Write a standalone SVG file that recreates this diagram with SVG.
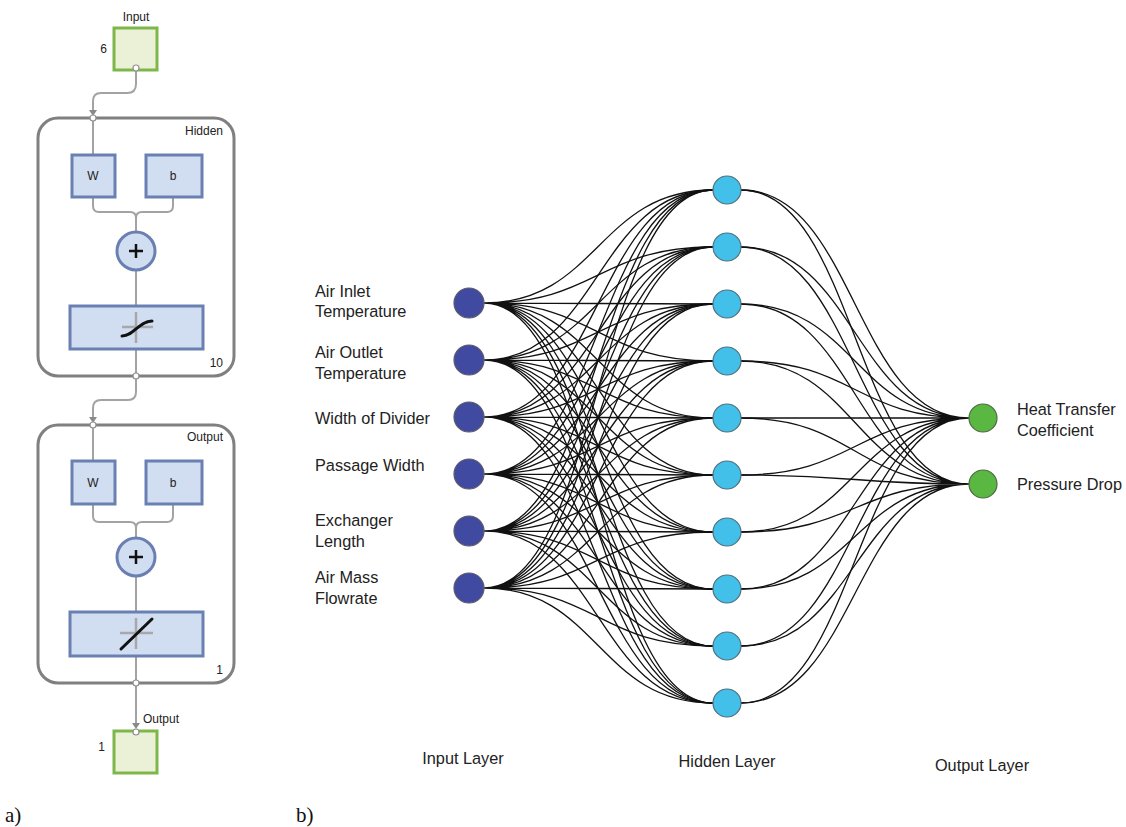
<svg xmlns="http://www.w3.org/2000/svg" width="1126" height="827" viewBox="0 0 1126 827">
<style>
.t{font-family:"Liberation Sans",Arial,sans-serif;fill:#222}
.s{font-size:12px}
.n{font-size:16.3px}
.cap{font-family:"Liberation Serif","Times New Roman",serif;font-size:21px;fill:#111}
.box{fill:none;stroke:#808080;stroke-width:3}
.io{fill:#ebf1d6;stroke:#7db749;stroke-width:3}
.blk{fill:#d1deF1;stroke:#6b80b2;stroke-width:3}
.wire{fill:none;stroke:#a3a3a3;stroke-width:2}
.port{fill:#fff;stroke:#909090;stroke-width:1.2}
.cross{stroke:#a8a8a8;stroke-width:2.5}
.fn{fill:none;stroke:#111;stroke-width:3;stroke-linecap:round}
.e{fill:none;stroke:#111;stroke-width:1.3}
.in{fill:#414aa1;stroke:#5a5a6a;stroke-width:1.2}
.hd{fill:#43c0e9;stroke:#50707e;stroke-width:1.2}
.out{fill:#5ab742;stroke:#4d6a45;stroke-width:1.2}
.ah{fill:#8a8a8a}
</style>

<!-- a) panel -->
<g id="panel-a-wires">
<path class="wire" d="M136 70 V84 Q136 93 127 93 H101 Q93 93 93 101 V112"/>
<path class="ah" d="M89 110 L97 110 L93 116 Z"/>
<path class="wire" d="M93 118 V154"/>
<path class="wire" d="M93 197 V206 Q93 212 99 212 H130 Q136 212 136 218 M173 197 V206 Q173 212 167 212 H142 Q136 212 136 218 V231"/>
<path class="wire" d="M136 271 V306"/>
<path class="wire" d="M136 349 V376"/>
<path class="wire" d="M136 378 V392 Q136 400 128 400 H101 Q93 400 93 408 V419"/>
<path class="ah" d="M89 417 L97 417 L93 423 Z"/>
<path class="wire" d="M93 425 V461"/>
<path class="wire" d="M93 504 V516 Q93 522 99 522 H130 Q136 522 136 528 M173 504 V516 Q173 522 167 522 H142 Q136 522 136 528 V537"/>
<path class="wire" d="M136 577 V612"/>
<path class="wire" d="M136 656 V683"/>
<path class="wire" d="M136 685 V725"/>
<path class="ah" d="M132 723 L140 723 L136 729 Z"/>
</g>

<g id="input-block">
<text class="t s" x="136" y="21" text-anchor="middle">Input</text>
<rect class="io" x="114" y="28" width="43" height="42"/>
<text class="t s" x="107" y="53" text-anchor="end">6</text>
<circle class="port" cx="136" cy="68" r="3"/>
</g>

<g id="hidden-block">
<rect class="box" x="38" y="118" width="196" height="258" rx="20"/>
<circle class="port" cx="93" cy="118" r="3"/>
<text class="t s" x="223" y="135" text-anchor="end">Hidden</text>
<rect class="blk" x="72" y="155" width="43" height="42"/>
<text class="t s" x="93" y="180" text-anchor="middle">W</text>
<rect class="blk" x="146" y="155" width="56" height="42"/>
<text class="t s" x="173" y="180" text-anchor="middle">b</text>
<circle class="blk" cx="136" cy="251" r="19"/>
<path d="M129 251 H143 M136 244 V258" stroke="#111" stroke-width="2.5"/>
<rect class="blk" x="70" y="306" width="133" height="43"/>
<path class="cross" d="M136 312 V343 M122 327 H153"/>
<path class="fn" d="M122 336 C134 336 139 321 152 321"/>
<text class="t s" x="223" y="367" text-anchor="end">10</text>
<circle class="port" cx="136" cy="376" r="3"/>
</g>

<g id="output-block">
<rect class="box" x="38" y="425" width="196" height="258" rx="20"/>
<circle class="port" cx="93" cy="425" r="3"/>
<text class="t s" x="223" y="441" text-anchor="end">Output</text>
<rect class="blk" x="72" y="461" width="43" height="43"/>
<text class="t s" x="93" y="487" text-anchor="middle">W</text>
<rect class="blk" x="146" y="461" width="56" height="43"/>
<text class="t s" x="173" y="487" text-anchor="middle">b</text>
<circle class="blk" cx="136" cy="557" r="19"/>
<path d="M129 557 H143 M136 550 V564" stroke="#111" stroke-width="2.5"/>
<rect class="blk" x="70" y="612" width="133" height="44"/>
<path class="cross" d="M136 618 V649 M120 633 H153"/>
<path class="fn" d="M121 649 L152 619"/>
<text class="t s" x="223" y="674" text-anchor="end">1</text>
<circle class="port" cx="136" cy="683" r="3"/>
</g>

<g id="output-port">
<text class="t s" x="143" y="723">Output</text>
<rect class="io" x="114" y="731" width="43" height="42"/>
<circle class="port" cx="136" cy="732" r="3"/>
<text class="t s" x="105" y="751" text-anchor="end">1</text>
</g>

<text class="cap" x="5" y="822">a)</text>
<text class="cap" x="296" y="822">b)</text>

<!-- b) network -->
<g id="connectors">
<path class="e" d="M484 303C598 303 598 190 713 190M484 303C598 303 598 247 713 247M484 303C598 303 598 304 713 304M484 303C598 303 598 361 713 361M484 303C598 303 598 418 713 418M484 303C598 303 598 475 713 475M484 303C598 303 598 532 713 532M484 303C598 303 598 589 713 589M484 303C598 303 598 646 713 646M484 303C598 303 598 703 713 703"/>
<path class="e" d="M484 360C598 360 598 190 713 190M484 360C598 360 598 247 713 247M484 360C598 360 598 304 713 304M484 360C598 360 598 361 713 361M484 360C598 360 598 418 713 418M484 360C598 360 598 475 713 475M484 360C598 360 598 532 713 532M484 360C598 360 598 589 713 589M484 360C598 360 598 646 713 646M484 360C598 360 598 703 713 703"/>
<path class="e" d="M484 417C598 417 598 190 713 190M484 417C598 417 598 247 713 247M484 417C598 417 598 304 713 304M484 417C598 417 598 361 713 361M484 417C598 417 598 418 713 418M484 417C598 417 598 475 713 475M484 417C598 417 598 532 713 532M484 417C598 417 598 589 713 589M484 417C598 417 598 646 713 646M484 417C598 417 598 703 713 703"/>
<path class="e" d="M484 474C598 474 598 190 713 190M484 474C598 474 598 247 713 247M484 474C598 474 598 304 713 304M484 474C598 474 598 361 713 361M484 474C598 474 598 418 713 418M484 474C598 474 598 475 713 475M484 474C598 474 598 532 713 532M484 474C598 474 598 589 713 589M484 474C598 474 598 646 713 646M484 474C598 474 598 703 713 703"/>
<path class="e" d="M484 531C598 531 598 190 713 190M484 531C598 531 598 247 713 247M484 531C598 531 598 304 713 304M484 531C598 531 598 361 713 361M484 531C598 531 598 418 713 418M484 531C598 531 598 475 713 475M484 531C598 531 598 532 713 532M484 531C598 531 598 589 713 589M484 531C598 531 598 646 713 646M484 531C598 531 598 703 713 703"/>
<path class="e" d="M484 588C598 588 598 190 713 190M484 588C598 588 598 247 713 247M484 588C598 588 598 304 713 304M484 588C598 588 598 361 713 361M484 588C598 588 598 418 713 418M484 588C598 588 598 475 713 475M484 588C598 588 598 532 713 532M484 588C598 588 598 589 713 589M484 588C598 588 598 646 713 646M484 588C598 588 598 703 713 703"/>
<path class="e" d="M741 190C855 190 855 418 969 418M741 247C855 247 855 418 969 418M741 304C855 304 855 418 969 418M741 361C855 361 855 418 969 418M741 418C855 418 855 418 969 418M741 475C855 475 855 418 969 418M741 532C855 532 855 418 969 418M741 589C855 589 855 418 969 418M741 646C855 646 855 418 969 418M741 703C855 703 855 418 969 418"/>
<path class="e" d="M741 190C855 190 855 484 969 484M741 247C855 247 855 484 969 484M741 304C855 304 855 484 969 484M741 361C855 361 855 484 969 484M741 418C855 418 855 484 969 484M741 475C855 475 855 484 969 484M741 532C855 532 855 484 969 484M741 589C855 589 855 484 969 484M741 646C855 646 855 484 969 484M741 703C855 703 855 484 969 484"/>
</g>

<g id="in1"><circle class="in" cx="469" cy="303" r="15"/><text class="t n" x="315" y="297">Air Inlet</text><text class="t n" x="315" y="317">Temperature</text></g>
<g id="in2"><circle class="in" cx="469" cy="360" r="15"/><text class="t n" x="315" y="358">Air Outlet</text><text class="t n" x="315" y="379">Temperature</text></g>
<g id="in3"><circle class="in" cx="469" cy="417" r="15"/><text class="t n" x="315" y="424">Width of Divider</text></g>
<g id="in4"><circle class="in" cx="469" cy="474" r="15"/><text class="t n" x="315" y="471">Passage Width</text></g>
<g id="in5"><circle class="in" cx="469" cy="531" r="15"/><text class="t n" x="315" y="526">Exchanger</text><text class="t n" x="315" y="547">Length</text></g>
<g id="in6"><circle class="in" cx="469" cy="588" r="15"/><text class="t n" x="315" y="583">Air Mass</text><text class="t n" x="315" y="604">Flowrate</text></g>

<g id="h1"><circle class="hd" cx="727" cy="190" r="14"/></g>
<g id="h2"><circle class="hd" cx="727" cy="247" r="14"/></g>
<g id="h3"><circle class="hd" cx="727" cy="304" r="14"/></g>
<g id="h4"><circle class="hd" cx="727" cy="361" r="14"/></g>
<g id="h5"><circle class="hd" cx="727" cy="418" r="14"/></g>
<g id="h6"><circle class="hd" cx="727" cy="475" r="14"/></g>
<g id="h7"><circle class="hd" cx="727" cy="532" r="14"/></g>
<g id="h8"><circle class="hd" cx="727" cy="589" r="14"/></g>
<g id="h9"><circle class="hd" cx="727" cy="646" r="14"/></g>
<g id="h10"><circle class="hd" cx="727" cy="703" r="14"/></g>

<g id="o1"><circle class="out" cx="983" cy="418" r="14"/><text class="t n" x="1017" y="415">Heat Transfer</text><text class="t n" x="1017" y="436">Coefficient</text></g>
<g id="o2"><circle class="out" cx="983" cy="484" r="14"/><text class="t n" x="1017" y="490">Pressure Drop</text></g>

<g id="layer-labels">
<text class="t n" x="463" y="764" text-anchor="middle">Input Layer</text>
<text class="t n" x="727" y="767" text-anchor="middle">Hidden Layer</text>
<text class="t n" x="982" y="771" text-anchor="middle">Output Layer</text>
</g>
</svg>
